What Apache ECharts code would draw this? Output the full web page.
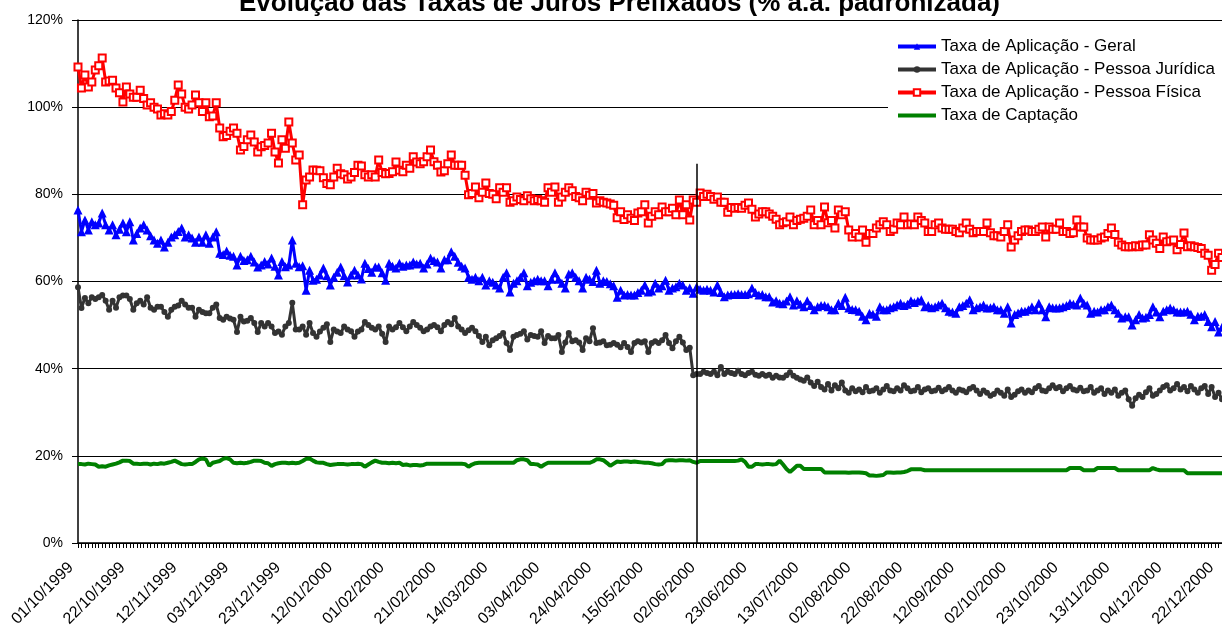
<!DOCTYPE html>
<html>
<head>
<meta charset="utf-8">
<script src="https://cdn.jsdelivr.net/npm/echarts@6/dist/echarts.min.js"></script>
<style>
	html, body { margin: 0; padding: 0; background: #fff; }
	#chart { width: 1222px; height: 639px; }
</style>
</head>
<body>
<div id="chart"></div>
<script>
// rotulos do eixo x (a cada 15 dias uteis)
var tickLabels = ['01/10/1999', '22/10/1999', '12/11/1999', '03/12/1999', '23/12/1999', '12/01/2000',
	'01/02/2000', '21/02/2000', '14/03/2000', '03/04/2000', '24/04/2000', '15/05/2000', '02/06/2000',
	'23/06/2000', '13/07/2000', '02/08/2000', '22/08/2000', '12/09/2000', '02/10/2000', '23/10/2000',
	'13/11/2000', '04/12/2000', '22/12/2000'];

var seriesNames = ['Taxa de Aplicação - Geral', 'Taxa de Aplicação - Pessoa Jurídica',
	'Taxa de Aplicação - Pessoa Física', 'Taxa de Captação'];

// % a.a.
var geral = [
	76.4, 71.4, 74.1, 71.8, 73.7, 73.0, 73.4, 75.7, 73.0, 71.8,
	73.0, 70.7, 72.0, 73.4, 71.4, 73.7, 69.5, 71.0, 72.3, 73.0,
	71.8, 70.5, 69.5, 68.8, 69.5, 67.9, 69.0, 70.2, 70.7, 71.5,
	72.3, 70.2, 70.7, 70.0, 69.0, 70.2, 69.0, 70.7, 68.8, 70.2,
	71.4, 66.5, 66.2, 67.0, 66.0, 65.8, 63.8, 65.8, 64.8, 65.0,
	65.8, 64.5, 63.3, 63.8, 64.6, 64.0, 65.4, 63.5, 61.5, 64.6,
	63.4, 63.8, 69.5, 64.2, 63.4, 63.6, 58.0, 62.6, 60.3, 60.5,
	61.5, 63.1, 61.3, 59.2, 61.0, 62.1, 63.3, 61.3, 59.9, 61.5,
	62.6, 61.5, 60.6, 64.2, 63.0, 62.1, 63.3, 63.3, 62.0, 60.3,
	64.2, 63.5, 63.1, 64.2, 63.5, 63.8, 63.8, 64.5, 64.0, 64.2,
	63.1, 64.0, 65.4, 64.8, 64.5, 63.1, 65.0, 65.0, 66.8, 65.8,
	64.4, 63.5, 63.1, 61.0, 60.5, 61.0, 60.2, 61.0, 59.2, 60.2,
	59.8, 59.2, 58.5, 61.0, 62.0, 57.6, 59.6, 60.2, 61.0, 62.0,
	59.0, 59.8, 60.2, 60.5, 60.2, 60.2, 59.0, 60.5, 62.0, 60.5,
	59.6, 58.5, 61.7, 62.0, 61.0, 60.2, 58.5, 61.0, 60.5, 60.0,
	62.6, 59.6, 60.2, 60.0, 59.5, 59.0, 56.4, 58.0, 56.9, 57.0,
	56.9, 56.9, 57.5, 58.0, 59.2, 57.6, 57.8, 59.6, 58.5, 59.0,
	60.3, 58.0, 58.5, 58.8, 59.6, 59.2, 58.0, 58.5, 57.3, 58.8,
	58.2, 58.0, 58.2, 58.0, 57.6, 59.2, 57.5, 56.5, 56.9, 57.0,
	57.0, 57.2, 57.0, 57.0, 57.2, 58.5, 57.5, 56.9, 57.0, 56.5,
	56.5, 55.3, 55.6, 55.0, 54.9, 55.5, 56.5, 54.6, 55.6, 54.8,
	54.2, 55.6, 54.5, 53.5, 54.2, 54.5, 54.5, 54.2, 53.5, 53.5,
	55.0, 54.5, 56.4, 53.9, 53.6, 53.5, 53.2, 52.0, 51.2, 52.7,
	52.5, 52.0, 54.2, 53.5, 53.5, 54.0, 54.2, 54.6, 55.0, 54.5,
	54.8, 55.6, 55.2, 55.5, 55.8, 54.2, 54.5, 54.0, 54.2, 54.6,
	55.0, 54.0, 53.2, 53.0, 52.7, 54.2, 54.5, 55.0, 55.8, 53.5,
	54.0, 54.2, 54.6, 53.9, 54.0, 54.2, 53.5, 53.5, 52.7, 54.2,
	50.5, 52.4, 52.8, 53.2, 53.2, 53.5, 54.2, 53.5, 55.0, 53.5,
	51.9, 54.2, 54.0, 53.9, 54.0, 54.2, 54.5, 55.0, 54.8, 54.6,
	56.2, 55.0, 54.6, 52.7, 53.2, 53.0, 53.5, 53.5, 54.2, 54.6,
	53.5, 52.7, 51.6, 51.9, 51.9, 50.0, 51.2, 52.4, 51.6, 51.8,
	52.4, 54.2, 53.0, 51.9, 53.2, 53.5, 53.9, 53.5, 53.0, 53.0,
	53.0, 53.2, 52.5, 51.2, 52.0, 52.0, 52.4, 50.8, 49.6, 50.8,
	48.4, 49.5
];

var juridica = [
	58.7, 53.9, 56.2, 55.0, 56.4, 56.0, 56.4, 56.9, 55.6, 53.5,
	55.6, 54.0, 56.4, 56.8, 56.8, 56.0, 53.5, 55.0, 55.6, 54.7,
	56.4, 54.0, 53.5, 54.2, 54.2, 53.0, 51.9, 53.5, 54.2, 54.5,
	55.6, 54.7, 54.0, 54.0, 51.9, 53.5, 53.0, 52.7, 52.7, 54.0,
	54.7, 51.6, 51.2, 51.9, 51.5, 51.2, 48.4, 51.9, 50.8, 51.0,
	51.6, 50.5, 48.4, 50.5, 49.7, 50.5, 49.7, 48.2, 48.5, 47.8,
	49.7, 50.5, 55.1, 49.0, 49.0, 49.7, 47.8, 50.5, 48.2, 47.3,
	48.5, 49.4, 50.2, 46.1, 49.0, 48.5, 48.2, 49.7, 49.0, 48.6,
	47.3, 48.5, 49.0, 50.7, 50.0, 49.4, 49.0, 49.7, 48.0, 46.1,
	49.7, 49.0, 49.5, 50.5, 49.5, 48.6, 49.7, 50.7, 50.0, 49.4,
	48.6, 49.0, 49.7, 50.0, 49.5, 48.6, 50.0, 50.7, 50.2, 51.6,
	49.7, 49.0, 48.2, 48.8, 49.4, 48.6, 47.5, 46.1, 47.3, 45.4,
	46.5, 47.0, 47.5, 48.2, 45.9, 44.3, 47.3, 47.7, 48.0, 48.6,
	46.7, 47.7, 47.5, 47.3, 48.6, 45.9, 47.5, 47.0, 47.0, 47.7,
	43.8, 46.0, 48.2, 46.3, 46.5, 46.0, 44.3, 47.0, 46.3, 49.3,
	45.9, 46.0, 46.3, 45.4, 45.5, 45.9, 45.5, 44.9, 45.9, 45.0,
	43.8, 45.9, 46.3, 46.0, 46.3, 43.8, 45.9, 46.3, 45.9, 46.5,
	47.7, 45.9, 44.7, 46.3, 47.3, 46.0, 44.3, 44.8, 38.5, 38.8,
	38.8, 39.3, 39.0, 38.8, 39.3, 38.5, 40.4, 38.8, 39.3, 39.0,
	38.8, 39.5, 38.8, 38.5, 39.0, 39.3, 38.6, 38.4, 38.8, 38.4,
	38.6, 37.9, 38.4, 38.0, 37.9, 38.5, 39.2, 38.4, 37.9, 37.5,
	37.2, 38.0, 36.8, 36.0, 37.0, 35.8, 35.2, 36.5, 35.0, 36.2,
	35.5, 36.8, 35.0, 34.5, 35.5, 34.8, 35.2, 34.6, 35.8, 34.8,
	35.0, 35.5, 34.5, 35.2, 36.0, 35.0, 34.8, 35.5, 35.0, 36.2,
	35.5, 34.8, 35.0, 35.8, 34.6, 35.2, 35.5, 34.8, 35.0, 35.6,
	34.8, 35.2, 35.8, 35.0, 34.5, 35.2, 35.0, 34.6, 35.4, 35.8,
	35.0, 34.2, 35.0, 34.5, 33.8, 34.2, 35.0, 34.5, 33.8, 35.2,
	33.5, 34.0, 34.8, 35.2, 34.5, 35.0, 34.6, 35.5, 36.0, 35.0,
	34.8, 35.5, 36.2, 35.5, 35.8, 34.8, 35.5, 36.0, 35.2, 35.0,
	35.6, 34.8, 35.0, 35.8, 34.5, 35.0, 35.5, 34.2, 35.0, 34.5,
	35.2, 33.8, 34.5, 35.0, 33.0, 31.5, 33.2, 34.0, 33.5, 34.6,
	35.5, 33.8, 34.2, 35.0, 35.8, 36.2, 35.0, 35.5, 36.5, 35.2,
	35.8, 34.8, 36.0, 35.2, 34.5, 35.5, 36.0, 34.2, 35.8, 33.5,
	34.5, 33.0
];

var fisica = [
	109.2, 104.4, 107.4, 104.6, 105.8, 108.5, 109.5, 111.3, 105.8, 106.0,
	106.2, 104.4, 103.3, 101.2, 104.6, 103.0, 102.3, 102.3, 103.9, 102.0,
	100.5, 101.0, 100.0, 99.6, 98.2, 98.5, 98.2, 99.0, 101.6, 105.1,
	103.0, 100.0, 99.6, 100.5, 102.8, 101.0, 99.0, 101.0, 97.8, 98.0,
	101.0, 95.2, 93.2, 93.5, 94.5, 95.2, 94.0, 90.2, 91.0, 92.5,
	93.6, 92.0, 89.7, 90.9, 91.2, 91.8, 94.0, 89.7, 87.2, 92.5,
	90.6, 96.6, 91.8, 87.9, 89.0, 77.6, 83.3, 84.0, 85.6, 85.5,
	85.4, 83.8, 82.5, 82.2, 84.0, 86.0, 84.7, 84.5, 83.5, 84.0,
	85.0, 86.7, 86.5, 84.5, 84.0, 84.5, 84.0, 87.9, 85.0, 84.7,
	84.8, 85.2, 87.4, 85.5, 85.2, 86.7, 86.0, 88.6, 87.4, 87.0,
	87.5, 88.6, 90.2, 87.5, 86.7, 85.1, 85.4, 87.0, 89.0, 86.7,
	86.7, 86.7, 84.4, 79.9, 80.2, 81.7, 79.2, 80.5, 82.6, 80.2,
	80.0, 79.0, 81.5, 80.5, 81.5, 78.2, 78.5, 79.4, 78.8, 78.5,
	79.7, 79.0, 78.5, 78.8, 78.5, 78.2, 81.5, 80.5, 81.7, 78.2,
	79.4, 80.5, 81.5, 80.8, 79.5, 79.2, 78.5, 80.5, 79.8, 80.2,
	78.0, 78.5, 78.2, 78.0, 77.8, 77.5, 74.6, 76.0, 74.2, 75.3,
	74.5, 74.0, 75.7, 76.0, 77.6, 73.4, 75.0, 76.0, 75.3, 77.1,
	76.0, 76.0, 76.8, 75.3, 78.7, 75.3, 77.6, 74.1, 78.7, 78.2,
	80.3, 79.5, 80.0, 79.5, 78.9, 79.4, 78.2, 78.2, 75.9, 77.0,
	76.8, 77.0, 76.8, 77.5, 78.0, 76.6, 74.8, 75.5, 76.0, 76.0,
	75.5, 75.0, 74.3, 73.0, 73.5, 73.7, 74.8, 73.0, 74.0, 74.3,
	74.5, 75.0, 76.4, 73.0, 74.0, 73.0, 77.1, 73.5, 74.0, 72.3,
	76.4, 75.3, 76.0, 71.8, 70.2, 71.0, 70.2, 71.8, 69.0, 71.0,
	71.0, 72.3, 73.0, 73.7, 73.0, 71.5, 72.0, 73.4, 73.0, 74.8,
	73.0, 73.2, 73.0, 74.8, 74.0, 73.4, 71.5, 71.5, 73.0, 73.4,
	72.3, 72.0, 72.0, 72.0, 71.5, 71.2, 72.3, 73.4, 72.0, 71.2,
	71.5, 71.5, 71.5, 73.4, 71.2, 70.5, 70.5, 70.2, 71.5, 73.0,
	67.9, 69.5, 70.5, 71.5, 71.8, 71.8, 71.5, 71.5, 72.0, 72.5,
	70.2, 72.5, 72.0, 72.0, 73.4, 71.5, 71.5, 71.0, 71.2, 74.1,
	72.5, 72.5, 70.0, 69.5, 69.5, 69.5, 70.0, 70.2, 71.0, 72.3,
	70.8, 69.0, 68.4, 68.0, 68.0, 68.0, 68.2, 68.0, 68.4, 68.4,
	70.7, 69.5, 68.8, 67.6, 70.2, 69.1, 69.3, 69.5, 67.3, 68.5,
	71.1, 68.0, 68.2, 68.0, 67.8, 67.6, 66.5, 66.0, 62.6, 63.9,
	66.5, 65.5
];

var captacao = [
	18.1, 18.1, 18.0, 18.2, 18.1, 18.0, 17.5, 17.6, 17.5, 17.8,
	18.0, 18.2, 18.5, 18.9, 18.9, 18.8, 18.2, 18.2, 18.1, 18.2,
	18.2, 18.0, 18.2, 18.1, 18.3, 18.2, 18.4, 18.6, 18.9, 18.5,
	18.1, 18.0, 18.1, 18.1, 18.6, 19.2, 19.4, 19.2, 17.7, 18.4,
	18.6, 18.8, 19.3, 19.5, 19.2, 18.4, 18.3, 18.4, 18.3, 18.4,
	18.6, 18.9, 18.9, 18.8, 18.4, 18.3, 17.7, 18.1, 18.3, 18.4,
	18.4, 18.3, 18.4, 18.3, 18.4, 18.8, 19.3, 19.4, 18.9, 18.5,
	18.4, 18.4, 18.1, 17.9, 18.0, 18.1, 18.1, 18.1, 18.0, 18.1,
	18.1, 18.2, 18.1, 17.5, 18.0, 18.5, 18.9, 18.6, 18.4, 18.4,
	18.3, 18.4, 18.3, 18.4, 17.9, 18.0, 17.8, 17.9, 17.9, 17.8,
	17.9, 18.2, 18.2, 18.2, 18.2, 18.2, 18.2, 18.2, 18.2, 18.2,
	18.2, 18.2, 18.1, 17.5, 18.0, 18.3, 18.4, 18.4, 18.4, 18.4,
	18.4, 18.4, 18.4, 18.4, 18.4, 18.4, 18.4, 19.0, 19.2, 19.2,
	19.0, 18.1, 18.1, 18.0, 17.5, 18.0, 18.4, 18.4, 18.4, 18.4,
	18.4, 18.4, 18.4, 18.4, 18.4, 18.4, 18.4, 18.4, 18.4, 18.7,
	19.2, 19.2, 19.0, 18.4, 17.7, 18.2, 18.7, 18.6, 18.7, 18.7,
	18.6, 18.7, 18.6, 18.5, 18.4, 18.4, 18.3, 18.1, 18.0, 18.1,
	18.9, 19.0, 19.0, 18.9, 19.0, 19.0, 18.9, 19.0, 18.6, 18.4,
	18.8, 18.8, 18.8, 18.8, 18.8, 18.8, 18.8, 18.8, 18.8, 18.8,
	18.8, 18.9, 19.2, 18.6, 17.5, 17.5, 18.1, 18.1, 18.0, 18.1,
	18.1, 18.0, 18.1, 18.9, 18.0, 17.0, 16.3, 17.0, 17.7, 17.7,
	17.0, 17.0, 17.0, 17.0, 17.0, 17.0, 16.2, 16.2, 16.2, 16.2,
	16.2, 16.2, 16.2, 16.1, 16.2, 16.2, 16.2, 16.1, 16.0, 15.5,
	15.5, 15.4, 15.5, 15.6, 16.2, 16.2, 16.1, 16.2, 16.2, 16.3,
	16.5, 16.9, 16.9, 16.9, 16.9, 16.7, 16.7, 16.7, 16.7, 16.7,
	16.7, 16.7, 16.7, 16.7, 16.7, 16.7, 16.7, 16.7, 16.7, 16.7,
	16.7, 16.7, 16.7, 16.7, 16.7, 16.7, 16.7, 16.7, 16.7, 16.7,
	16.7, 16.7, 16.7, 16.7, 16.7, 16.7, 16.7, 16.7, 16.7, 16.7,
	16.7, 16.7, 16.7, 16.7, 16.7, 16.7, 16.7, 17.2, 17.2, 17.2,
	17.2, 16.7, 16.7, 16.7, 16.7, 17.2, 17.2, 17.2, 17.2, 17.2,
	17.2, 16.7, 16.7, 16.7, 16.7, 16.7, 16.7, 16.7, 16.7, 16.7,
	16.7, 17.2, 16.9, 16.7, 16.7, 16.7, 16.7, 16.7, 16.7, 16.7,
	16.7, 16.0, 16.0, 16.0, 16.0, 16.0, 16.0, 16.0, 16.0, 16.0,
	16.0, 16.0
];

// linha vertical de corte (indice do dia e altura em %)
var cutIndex = 178.6;
var cutTop = 87;

// datas dos dias uteis, a partir de 01/10/1999
var categories = [];
(function(){
	var d = new Date(1999, 9, 1);
	var pad = function(n){ return (n < 10 ? '0' : '') + n; };
	while (categories.length < geral.length) {
		var w = d.getDay();
		if (w > 0 && w < 6)
			categories.push(pad(d.getDate()) + '/' + pad(d.getMonth() + 1) + '/' + d.getFullYear());
		d.setDate(d.getDate() + 1);
	}
})();

var font = 'Liberation Sans, Arial, sans-serif';
var chart = echarts.init(document.getElementById('chart'), null, { renderer: 'canvas' });

chart.setOption({
	animation: false,
	backgroundColor: '#fff',
	title: {
		text: 'Evolução das Taxas de Juros Prefixados (% a.a. padronizada)',
		left: 234,
		top: -14,
		textStyle: { fontFamily: font, fontSize: 26, fontWeight: 'bold', color: '#000' }
	},
	legend: {
		orient: 'vertical',
		left: 888,
		top: 34,
		padding: [4, 60, 10, 8],
		backgroundColor: '#fff',
		itemWidth: 38,
		itemHeight: 8,
		itemGap: 6,
		lineStyle: { width: 4 },
		data: [
			seriesNames[0],
			seriesNames[1],
			seriesNames[2],
			{ name: seriesNames[3], itemStyle: { opacity: 0 } }
		],
		textStyle: { fontFamily: font, fontSize: 17, color: '#000' }
	},
	grid: { left: 78, right: 0, top: 20, bottom: 96, containLabel: false },
	xAxis: {
		type: 'category',
		data: categories,
		boundaryGap: false,
		axisLine: { lineStyle: { color: '#000', width: 1.5 } },
		axisTick: { interval: 0, length: 5, lineStyle: { color: '#000' } },
		axisLabel: {
			interval: 14,
			rotate: 45,
			margin: 15,
			padding: [0, 10, 0, 0],
			fontFamily: font,
			fontSize: 16,
			color: '#000',
			formatter: function(v, idx){ return tickLabels[idx / 15] || ''; }
		},
		splitLine: { show: false }
	},
	yAxis: {
		type: 'value',
		min: 0,
		max: 120,
		interval: 20,
		axisLine: { show: true, lineStyle: { color: '#000', width: 1.5 } },
		axisTick: { show: true, length: 6, lineStyle: { color: '#000' } },
		axisLabel: { formatter: '{value}%', margin: 15, fontFamily: font, fontSize: 14, color: '#000' },
		splitLine: { lineStyle: { color: '#000', width: 1.2 } }
	},
	series: [
		{
			name: seriesNames[0], type: 'line', data: geral,
			symbol: 'triangle', symbolSize: 9, showAllSymbol: true,
			lineStyle: { color: '#0000ff', width: 3 },
			itemStyle: { color: '#0000ff' }
		},
		{
			name: seriesNames[1], type: 'line', data: juridica,
			symbol: 'circle', symbolSize: 6, showAllSymbol: true,
			lineStyle: { color: '#333333', width: 3 },
			itemStyle: { color: '#333333' },
			markLine: {
				silent: true, symbol: 'none', label: { show: false },
				lineStyle: { color: '#000', width: 1.5, type: 'solid' },
				data: [[{ coord: [cutIndex, cutTop] }, { coord: [cutIndex, 0] }]]
			}
		},
		{
			name: seriesNames[2], type: 'line', data: fisica,
			symbol: 'emptyRect', symbolSize: 7, showAllSymbol: true,
			lineStyle: { color: '#ff0000', width: 3 },
			itemStyle: { color: '#ff0000', borderWidth: 1.5 }
		},
		{
			name: seriesNames[3], type: 'line', data: captacao,
			symbol: 'none',
			lineStyle: { color: '#008000', width: 4 },
			itemStyle: { color: '#008000' }
		}
	]
});
</script>
</body>
</html>
